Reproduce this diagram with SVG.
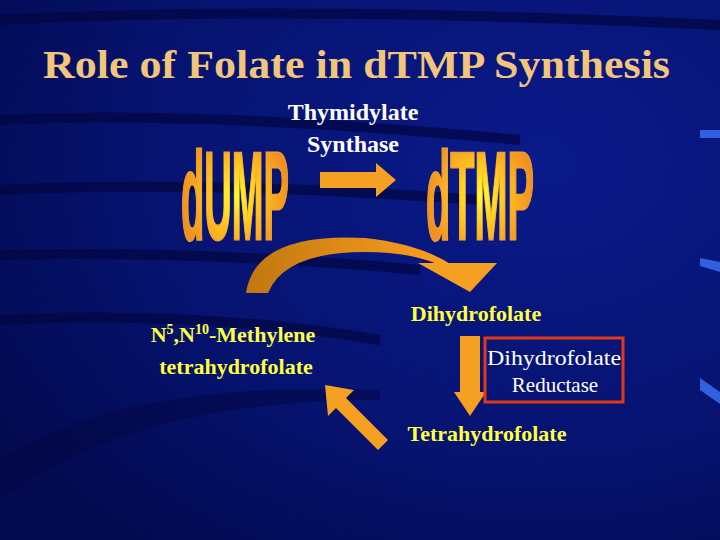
<svg xmlns="http://www.w3.org/2000/svg" width="720" height="540" viewBox="0 0 720 540">
<defs>
<radialGradient id="bg" cx="0.75" cy="0.3" r="0.9"><stop offset="0" stop-color="#0a1a8a"/><stop offset="0.6" stop-color="#061370"/><stop offset="1" stop-color="#030a50"/></radialGradient>
<radialGradient id="glow" cx="0.5" cy="0.5" r="0.5"><stop offset="0" stop-color="#ffff30"/><stop offset="0.5" stop-color="#ffc020"/><stop offset="1" stop-color="#f09020"/></radialGradient>
<linearGradient id="curve" x1="0" y1="0" x2="1" y2="0"><stop offset="0" stop-color="#c07810"/><stop offset="1" stop-color="#ffa020"/></linearGradient>
<style>
.title{font-family:"Liberation Serif",serif;font-weight:bold;font-size:40px;fill:#f2c57a}
.w{font-family:"Liberation Serif",serif;font-weight:bold;font-size:24px;fill:#fff;text-anchor:middle}
.r{font-family:"Liberation Serif",serif;font-size:21px;fill:#fff;text-anchor:middle}
.y{font-family:"Liberation Serif",serif;font-weight:bold;font-size:22px;fill:#ffff40;text-anchor:middle}
.big{font-family:"Liberation Sans",sans-serif;font-weight:bold;font-size:124px;fill:url(#glow);stroke:#f0a030;stroke-width:3;paint-order:stroke}
.arr{fill:#f5a020}
.stripe{fill:none;stroke:#020640;stroke-width:10;opacity:0.7}
</style>
</defs>
<rect width="720" height="540" fill="url(#bg)"/>
<path class="stripe" d="M0,20 Q300,5 720,25"/>
<path class="stripe" d="M0,120 Q200,110 520,140"/>
<path class="stripe" d="M0,190 Q200,180 480,200"/>
<path class="stripe" d="M0,255 Q200,250 420,270"/>
<path class="stripe" d="M0,320 Q200,310 380,340"/>
<path d="M0,460 Q120,380 380,390 L380,400 Q130,400 0,500Z" fill="#020640" opacity="0.5"/>
<rect x="700" y="130" width="20" height="8" fill="#3060e0"/>
<path d="M700,258 L720,262 L720,272 L700,266Z" fill="#3060e0"/>
<path d="M700,378 L720,392 L720,404 L700,390Z" fill="#3060e0"/>
<text class="title" x="43" y="78" textLength="627" lengthAdjust="spacingAndGlyphs">Role of Folate in dTMP Synthesis</text>
<text class="w" x="353" y="120">Thymidylate</text>
<text class="w" x="353" y="152">Synthase</text>
<g id="dUMP"><text class="big" x="181" y="239" textLength="108" lengthAdjust="spacingAndGlyphs">dUMP</text></g>
<g id="dTMP"><text class="big" x="426" y="239" textLength="108" lengthAdjust="spacingAndGlyphs">dTMP</text></g>
<g id="connectors">
<path class="arr" d="M320,172 L376,172 L376,163 L396,180 L376,197 L376,188 L320,188Z"/>
<path fill="url(#curve)" d="M246,293 Q255,232 365,238 Q420,244 452,265 L440,265 Q410,252 365,252 Q285,252 268,293Z"/>
<path class="arr" d="M418,263 L497,263 L470,292Z"/>
<path class="arr" d="M460,336 L480,336 L480,392 L486,392 L470,416 L454,392 L460,392Z"/>
<path class="arr" d="M325,385 L354,390 L346,398 L388,440 L378,450 L336,408 L328,416Z"/>
</g>
<g id="dhf"><text class="y" x="476" y="321">Dihydrofolate</text></g>
<g id="mthf"><text class="y" x="233" y="342"><tspan>N</tspan><tspan font-size="14" dy="-8">5</tspan><tspan dy="8">,N</tspan><tspan font-size="14" dy="-8">10</tspan><tspan dy="8">-Methylene</tspan></text>
<text class="y" x="236" y="374">tetrahydrofolate</text></g>
<g id="dhfr"><rect x="485" y="338" width="138" height="64" fill="none" stroke="#e03818" stroke-width="3"/>
<text class="r" x="554" y="365" textLength="134" lengthAdjust="spacingAndGlyphs">Dihydrofolate</text>
<text class="r" x="555" y="392">Reductase</text></g>
<g id="thf"><text class="y" x="487" y="441">Tetrahydrofolate</text></g>
</svg>
